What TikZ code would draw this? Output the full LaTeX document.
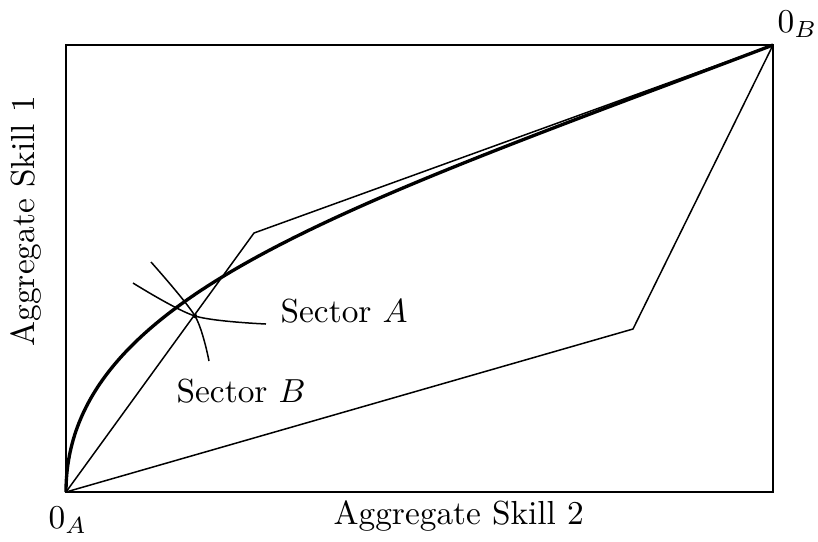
\documentclass[tikz,border=0pt]{standalone}
\begin{document}
\begin{tikzpicture}[x=0.3pt,y=-0.3pt,
  thinline/.style={line width=0.45pt},
  thickline/.style={line width=1pt},
  lbl/.style={inner sep=0pt, anchor=base west}]
\useasboundingbox (0,0) rectangle (818,541);
\coordinate (OA) at (66,492);
\coordinate (OB) at (773,45);
\coordinate (K1) at (254,233);
\coordinate (K2) at (633,329);
\coordinate (D) at (195,316);
\coordinate (A1) at (133,283);
\coordinate (A2) at (266,324);
\coordinate (B1) at (151,262);
\coordinate (B2) at (209,361);
\draw[thinline] (OA) rectangle (OB);
\draw[thinline] (OA) -- (K1) -- (OB);
\draw[thinline] (OA) -- (K2) -- (OB);
\draw[thickline] (OA) .. controls (66,295) and (349,206) .. (OB);
\draw[thinline] plot[smooth] coordinates {(A1) (D) (A2)};
\draw[thinline] plot[smooth] coordinates {(B1) (D) (B2)};
\fill (D) circle[radius=2.2];
\node[lbl] (la) at (48,528) {$0_A$};
\node[lbl] (lb) at (777,32) {$0_B$};
\node[lbl] (xl) at (333,524) {Aggregate Skill 2};
\node[lbl, rotate=90] (yl) at (35,347) {Aggregate Skill 1};
\node[lbl] (sa) at (280,322) {Sector $A$};
\node[lbl] (sb) at (176,402) {Sector $B$};
\end{tikzpicture}
\end{document}
